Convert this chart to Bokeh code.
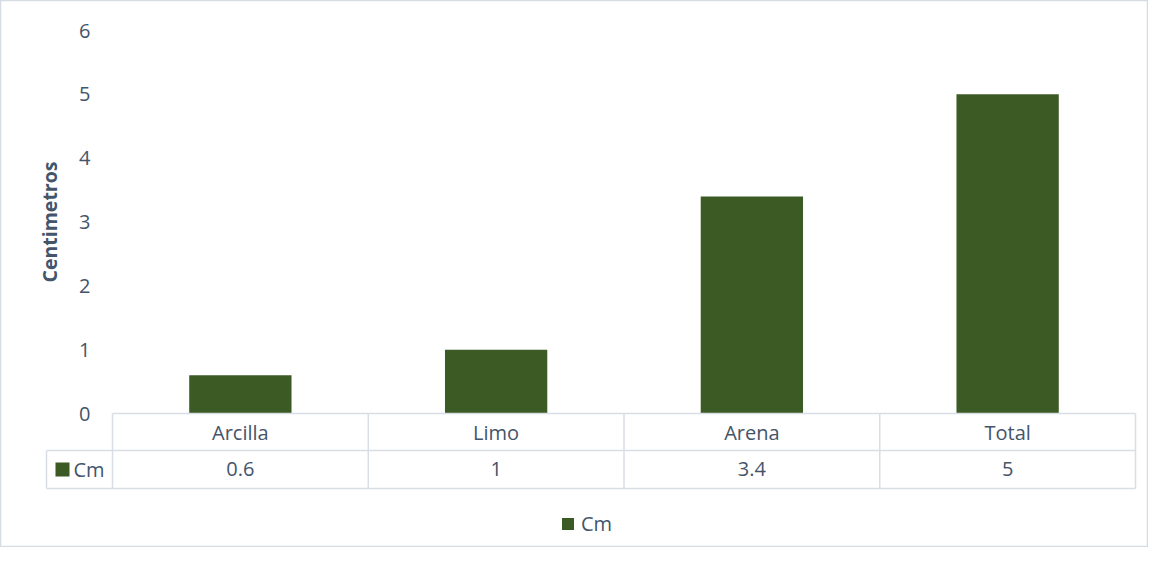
from bokeh.plotting import figure
from bokeh.models import LinearAxis, FixedTicker, Range1d, ColumnDataSource, Legend, LegendItem
from bokeh.core.properties import value
from bokeh.embed import file_html
from bokeh.resources import INLINE

# ---- data ----
categories = ["Arcilla", "Limo", "Arena", "Total"]
cm_values = [0.6, 1, 3.4, 5]
series_name = "Cm"
y_ticks = [0, 1, 2, 3, 4, 5, 6]
y_title = "Centimetros"

# ---- style ----
BAR = "#3B5A24"
TXT = "#44546A"
GRID = "#D9DEE6"
FONT = value("Open Sans")
FS = "20px"

n = len(categories)
centers = [i + 0.5 for i in range(n)]

p = figure(width=1148, height=547, output_backend="svg", toolbar_location=None,
           x_axis_type=None, y_axis_type=None,
           x_range=Range1d(-0.43793, 4.05083), y_range=Range1d(-2.0992, 6.4700),
           min_border=0)
p.outline_line_color = "#D6DCE4"
p.outline_line_width = 1.5
p.background_fill_color = "white"
p.border_fill_color = "white"

# bars
src = ColumnDataSource(dict(x=centers, top=cm_values, cat=categories,
                            lbl=[("%g" % v) for v in cm_values]))
bars = p.vbar(x="x", top="top", bottom=0, width=0.4, source=src,
              fill_color=BAR, line_color=None)

# y axis placed at plot-area left edge
yax = LinearAxis(fixed_location=0, ticker=FixedTicker(ticks=y_ticks))
yax.axis_line_color = None
yax.major_tick_line_color = None
yax.minor_tick_line_color = None
yax.major_tick_out = 0
yax.major_tick_in = 0
yax.major_label_standoff = 22
yax.major_label_text_font = "Open Sans"
yax.major_label_text_font_size = FS
yax.major_label_text_color = TXT
p.add_layout(yax, "left")

# axis title
p.text(x=[-0.245], y=[(y_ticks[0] + y_ticks[-1]) / 2], text=[y_title], angle=1.5708,
       text_font=FONT, text_font_size="19.5px", text_font_style="bold",
       text_color=TXT, text_align="center", text_baseline="middle")

# data table grid
r0, r1, r2 = 0.0, -0.58, -1.175
xl = -0.258
xs_list = [[0, n], [xl, n], [xl, n]]
ys_list = [[r0, r0], [r1, r1], [r2, r2]]
for i in range(n + 1):
    xs_list.append([i, i]); ys_list.append([r0, r2])
xs_list.append([xl, xl]); ys_list.append([r1, r2])
p.multi_line(xs=xs_list, ys=ys_list, line_color=GRID, line_width=1.5)

# table texts
p.text(x="x", y=-0.29, text="cat", source=src, text_font=FONT, text_font_size=FS,
       text_color=TXT, text_align="center", text_baseline="middle")
p.text(x="x", y=-0.877, text="lbl", source=src, text_font=FONT, text_font_size=FS,
       text_color=TXT, text_align="center", text_baseline="middle")
p.scatter(x=[-0.1955], y=[-0.877], marker="square", size=14, fill_color=BAR, line_color=None)
p.text(x=[-0.1525], y=[-0.877], text=[series_name], text_font=FONT, text_font_size=FS,
       text_color=TXT, text_align="left", text_baseline="middle")

# bottom legend
leg = Legend(items=[LegendItem(label=series_name, renderers=[bars])],
             location=(560, 10), orientation="horizontal", padding=0, margin=0,
             border_line_color=None, background_fill_alpha=0,
             glyph_width=15, glyph_height=15, label_standoff=6,
             label_text_font="Open Sans", label_text_font_size=FS,
             label_text_color=TXT, label_height=24)
p.add_layout(leg, "center")

open("out.html", "w").write(file_html(p, INLINE))
